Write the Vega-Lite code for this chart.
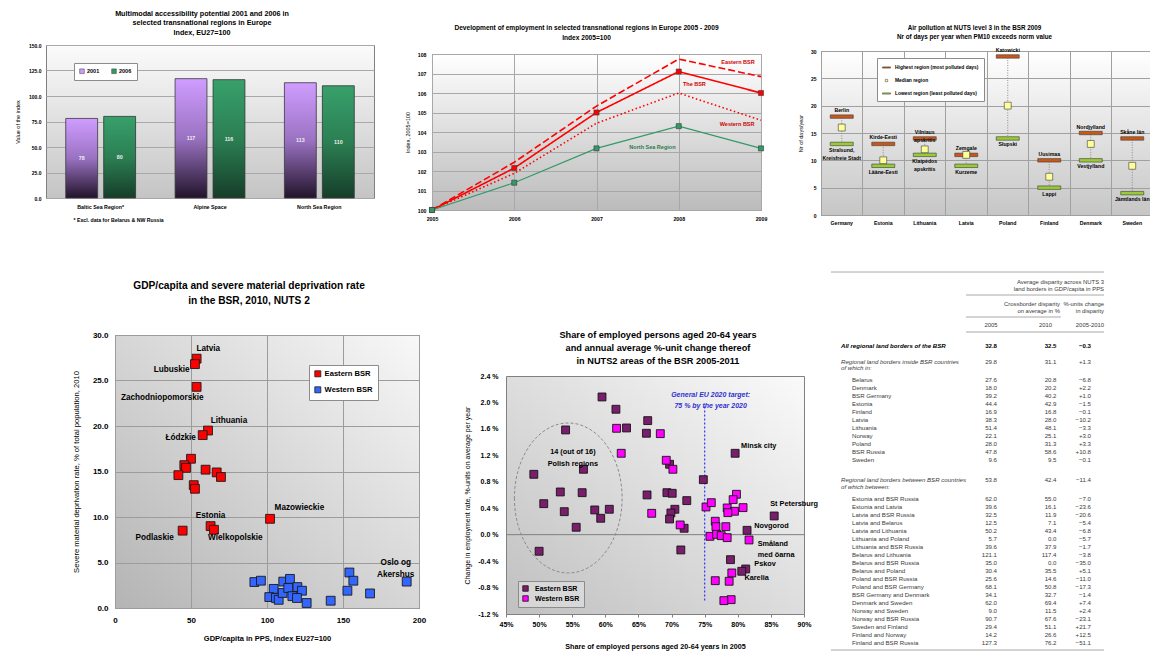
{
"$schema": "https://vega.github.io/schema/vega-lite/v6.json",
"background": "#ffffff",
"padding": {"left": 14, "top": 0, "right": 0, "bottom": 0},
"config": {
 "font": "Liberation Sans",
 "view": {"stroke": "#808080", "strokeWidth": 1},
 "axis": {"domain": false, "ticks": false, "tickSize": 0, "labelColor": "#000000", "titleColor": "#000000", "gridColor": "#a0a0a0", "gridWidth": 1, "labelFont": "Liberation Sans", "titleFont": "Liberation Sans"},
 "title": {"font": "Liberation Sans", "fontWeight": "bold", "color": "#000000", "anchor": "middle", "frame": "group"},
 "legend": {"labelFont": "Liberation Sans", "labelColor": "#000000"},
 "text": {"font": "Liberation Sans"}
},
"datasets": {
 "p1": [
  {"region": "Baltic Sea Region*", "year": "2001", "value": 78},
  {"region": "Baltic Sea Region*", "year": "2006", "value": 80},
  {"region": "Alpine Space", "year": "2001", "value": 117},
  {"region": "Alpine Space", "year": "2006", "value": 116},
  {"region": "North Sea Region", "year": "2001", "value": 113},
  {"region": "North Sea Region", "year": "2006", "value": 110}
 ],
 "p2": [
  {"series": "The BSR", "year": 2005, "index": 100}, {"series": "The BSR", "year": 2006, "index": 102.15}, {"series": "The BSR", "year": 2007, "index": 105.0}, {"series": "The BSR", "year": 2008, "index": 107.1}, {"series": "The BSR", "year": 2009, "index": 106.0},
  {"series": "Eastern BSR", "year": 2005, "index": 100}, {"series": "Eastern BSR", "year": 2006, "index": 102.45}, {"series": "Eastern BSR", "year": 2007, "index": 105.33}, {"series": "Eastern BSR", "year": 2008, "index": 107.74}, {"series": "Eastern BSR", "year": 2009, "index": 106.84},
  {"series": "Western BSR", "year": 2005, "index": 100}, {"series": "Western BSR", "year": 2006, "index": 101.88}, {"series": "Western BSR", "year": 2007, "index": 104.45}, {"series": "Western BSR", "year": 2008, "index": 106.0}, {"series": "Western BSR", "year": 2009, "index": 104.6},
  {"series": "North Sea Region", "year": 2005, "index": 100}, {"series": "North Sea Region", "year": 2006, "index": 101.4}, {"series": "North Sea Region", "year": 2007, "index": 103.16}, {"series": "North Sea Region", "year": 2008, "index": 104.3}, {"series": "North Sea Region", "year": 2009, "index": 103.16}
 ],
 "p2labRed": [
  {"label": "Eastern BSR", "year": 2008.72, "index": 107.6},
  {"label": "The BSR", "year": 2008.19, "index": 106.45},
  {"label": "Western BSR", "year": 2008.71, "index": 104.4}
 ],
 "p2labGreen": [
  {"label": "North Sea Region", "year": 2007.68, "index": 103.25}
 ],
 "p3": [
  {"country": "Germany", "type": "Highest region (most polluted days)", "days": 18, "name": "Berlin"},
  {"country": "Germany", "type": "Median region", "days": 16, "name": ""},
  {"country": "Germany", "type": "Lowest region (least polluted days)", "days": 13, "name": "Stralsund,\nKreisfreie Stadt"},
  {"country": "Estonia", "type": "Highest region (most polluted days)", "days": 13, "name": "Kirde-Eesti"},
  {"country": "Estonia", "type": "Median region", "days": 10, "name": ""},
  {"country": "Estonia", "type": "Lowest region (least polluted days)", "days": 9, "name": "Lääne-Eesti"},
  {"country": "Lithuania", "type": "Highest region (most polluted days)", "days": 14, "name": "Vilniaus\napskritis"},
  {"country": "Lithuania", "type": "Median region", "days": 12, "name": ""},
  {"country": "Lithuania", "type": "Lowest region (least polluted days)", "days": 11, "name": "Klaipėdos\napskritis"},
  {"country": "Latvia", "type": "Highest region (most polluted days)", "days": 11, "name": "Zemgale"},
  {"country": "Latvia", "type": "Median region", "days": 11, "name": ""},
  {"country": "Latvia", "type": "Lowest region (least polluted days)", "days": 9, "name": "Kurzeme"},
  {"country": "Poland", "type": "Highest region (most polluted days)", "days": 29, "name": "Katowicki"},
  {"country": "Poland", "type": "Median region", "days": 20, "name": ""},
  {"country": "Poland", "type": "Lowest region (least polluted days)", "days": 14, "name": "Słupski"},
  {"country": "Finland", "type": "Highest region (most polluted days)", "days": 10, "name": "Uusimaa"},
  {"country": "Finland", "type": "Median region", "days": 7, "name": ""},
  {"country": "Finland", "type": "Lowest region (least polluted days)", "days": 5, "name": "Lappi"},
  {"country": "Denmark", "type": "Highest region (most polluted days)", "days": 15, "name": "Nordjylland"},
  {"country": "Denmark", "type": "Median region", "days": 13, "name": ""},
  {"country": "Denmark", "type": "Lowest region (least polluted days)", "days": 10, "name": "Vestjylland"},
  {"country": "Sweden", "type": "Highest region (most polluted days)", "days": 14, "name": "Skåne län"},
  {"country": "Sweden", "type": "Median region", "days": 9, "name": ""},
  {"country": "Sweden", "type": "Lowest region (least polluted days)", "days": 4, "name": "Jämtlands län"}
 ],
 "p4": [
  {"group": "Eastern BSR", "gdp": 53.7, "smd": 27.4}, {"group": "Eastern BSR", "gdp": 52.6, "smd": 26.8}, {"group": "Eastern BSR", "gdp": 53.7, "smd": 24.3}, {"group": "Eastern BSR", "gdp": 61.2, "smd": 19.5}, {"group": "Eastern BSR", "gdp": 57.7, "smd": 19.0}, {"group": "Eastern BSR", "gdp": 50.0, "smd": 16.4}, {"group": "Eastern BSR", "gdp": 45.6, "smd": 15.7}, {"group": "Eastern BSR", "gdp": 46.7, "smd": 15.4}, {"group": "Eastern BSR", "gdp": 41.7, "smd": 14.6}, {"group": "Eastern BSR", "gdp": 59.6, "smd": 15.2}, {"group": "Eastern BSR", "gdp": 66.9, "smd": 14.9}, {"group": "Eastern BSR", "gdp": 69.7, "smd": 14.4}, {"group": "Eastern BSR", "gdp": 51.8, "smd": 13.5}, {"group": "Eastern BSR", "gdp": 52.6, "smd": 13.1}, {"group": "Eastern BSR", "gdp": 102.0, "smd": 9.8}, {"group": "Eastern BSR", "gdp": 62.9, "smd": 9.0}, {"group": "Eastern BSR", "gdp": 65.1, "smd": 8.6}, {"group": "Eastern BSR", "gdp": 44.5, "smd": 8.5},
  {"group": "Western BSR", "gdp": 91.7, "smd": 2.85}, {"group": "Western BSR", "gdp": 96.0, "smd": 3.0}, {"group": "Western BSR", "gdp": 104.4, "smd": 2.1}, {"group": "Western BSR", "gdp": 101.5, "smd": 1.2}, {"group": "Western BSR", "gdp": 105.9, "smd": 1.1}, {"group": "Western BSR", "gdp": 107.7, "smd": 0.9}, {"group": "Western BSR", "gdp": 110.3, "smd": 1.65}, {"group": "Western BSR", "gdp": 110.7, "smd": 2.9}, {"group": "Western BSR", "gdp": 115.1, "smd": 3.2}, {"group": "Western BSR", "gdp": 114.0, "smd": 2.2}, {"group": "Western BSR", "gdp": 116.7, "smd": 1.3}, {"group": "Western BSR", "gdp": 120.0, "smd": 2.3}, {"group": "Western BSR", "gdp": 123.0, "smd": 1.9}, {"group": "Western BSR", "gdp": 119.7, "smd": 1.1}, {"group": "Western BSR", "gdp": 126.1, "smd": 0.55}, {"group": "Western BSR", "gdp": 141.9, "smd": 0.8}, {"group": "Western BSR", "gdp": 152.9, "smd": 1.9}, {"group": "Western BSR", "gdp": 154.2, "smd": 3.9}, {"group": "Western BSR", "gdp": 156.8, "smd": 3.0}, {"group": "Western BSR", "gdp": 167.8, "smd": 1.6}, {"group": "Western BSR", "gdp": 191.9, "smd": 2.9}
 ],
 "p4lab": [
  {"label": "Latvia", "gdp": 61.4, "smd": 28.5},
  {"label": "Lubuskie", "gdp": 37.3, "smd": 26.2},
  {"label": "Zachodniopomorskie", "gdp": 31.1, "smd": 23.1},
  {"label": "Lithuania", "gdp": 75.0, "smd": 20.55},
  {"label": "Łódzkie", "gdp": 43.2, "smd": 18.7},
  {"label": "Mazowieckie", "gdp": 121.3, "smd": 11.0},
  {"label": "Estonia", "gdp": 62.9, "smd": 10.1},
  {"label": "Wielkopolskie", "gdp": 79.2, "smd": 7.7},
  {"label": "Podlaskie", "gdp": 26.1, "smd": 7.7},
  {"label": "Oslo og\nAkershus", "gdp": 184.7, "smd": 4.95}
 ],
 "p5": [
  {"group": "Eastern BSR", "share": 0.595, "change": 2.083}, {"group": "Eastern BSR", "share": 0.616, "change": 1.897}, {"group": "Eastern BSR", "share": 0.632, "change": 1.614}, {"group": "Eastern BSR", "share": 0.664, "change": 1.725}, {"group": "Eastern BSR", "share": 0.662, "change": 1.534}, {"group": "Eastern BSR", "share": 0.540, "change": 1.584}, {"group": "Eastern BSR", "share": 0.492, "change": 0.913}, {"group": "Eastern BSR", "share": 0.567, "change": 0.989}, {"group": "Eastern BSR", "share": 0.532, "change": 0.646}, {"group": "Eastern BSR", "share": 0.565, "change": 0.635}, {"group": "Eastern BSR", "share": 0.507, "change": 0.469}, {"group": "Eastern BSR", "share": 0.538, "change": 0.348}, {"group": "Eastern BSR", "share": 0.584, "change": 0.374}, {"group": "Eastern BSR", "share": 0.606, "change": 0.384}, {"group": "Eastern BSR", "share": 0.593, "change": 0.248}, {"group": "Eastern BSR", "share": 0.556, "change": 0.112}, {"group": "Eastern BSR", "share": 0.500, "change": -0.251}, {"group": "Eastern BSR", "share": 0.663, "change": 0.601}, {"group": "Eastern BSR", "share": 0.693, "change": 0.635}, {"group": "Eastern BSR", "share": 0.701, "change": 0.626}, {"group": "Eastern BSR", "share": 0.697, "change": 1.065}, {"group": "Eastern BSR", "share": 0.723, "change": 0.515}, {"group": "Eastern BSR", "share": 0.705, "change": 0.384}, {"group": "Eastern BSR", "share": 0.699, "change": 0.328}, {"group": "Eastern BSR", "share": 0.697, "change": 0.237}, {"group": "Eastern BSR", "share": 0.719, "change": 0.097}, {"group": "Eastern BSR", "share": 0.714, "change": -0.231}, {"group": "Eastern BSR", "share": 0.748, "change": 0.832}, {"group": "Eastern BSR", "share": 0.796, "change": 1.231}, {"group": "Eastern BSR", "share": 0.855, "change": 0.283}, {"group": "Eastern BSR", "share": 0.814, "change": 0.066}, {"group": "Eastern BSR", "share": 0.789, "change": -0.378}, {"group": "Eastern BSR", "share": 0.812, "change": -0.519}, {"group": "Eastern BSR", "share": 0.806, "change": -0.554},
  {"group": "Western BSR", "share": 0.617, "change": 1.609}, {"group": "Western BSR", "share": 0.624, "change": 1.231}, {"group": "Western BSR", "share": 0.683, "change": 1.528}, {"group": "Western BSR", "share": 0.692, "change": 1.125}, {"group": "Western BSR", "share": 0.702, "change": 0.989}, {"group": "Western BSR", "share": 0.670, "change": 0.323}, {"group": "Western BSR", "share": 0.713, "change": 0.147}, {"group": "Western BSR", "share": 0.752, "change": 0.419}, {"group": "Western BSR", "share": 0.760, "change": 0.484}, {"group": "Western BSR", "share": 0.798, "change": 0.611}, {"group": "Western BSR", "share": 0.793, "change": 0.530}, {"group": "Western BSR", "share": 0.784, "change": 0.404}, {"group": "Western BSR", "share": 0.795, "change": 0.354}, {"group": "Western BSR", "share": 0.808, "change": 0.409}, {"group": "Western BSR", "share": 0.785, "change": 0.333}, {"group": "Western BSR", "share": 0.766, "change": 0.203}, {"group": "Western BSR", "share": 0.767, "change": 0.121}, {"group": "Western BSR", "share": 0.782, "change": 0.121}, {"group": "Western BSR", "share": 0.758, "change": -0.025}, {"group": "Western BSR", "share": 0.768, "change": 0.005}, {"group": "Western BSR", "share": 0.775, "change": -0.015}, {"group": "Western BSR", "share": 0.784, "change": -0.045}, {"group": "Western BSR", "share": 0.817, "change": -0.080}, {"group": "Western BSR", "share": 0.791, "change": -0.579}, {"group": "Western BSR", "share": 0.766, "change": -0.696}, {"group": "Western BSR", "share": 0.787, "change": -0.705}, {"group": "Western BSR", "share": 0.790, "change": -0.983}, {"group": "Western BSR", "share": 0.779, "change": -0.998}
 ],
 "p5labR": [
  {"label": "Minsk city", "share": 0.805, "change": 1.342},
  {"label": "St Petersburg", "share": 0.849, "change": 0.469},
  {"label": "Novgorod", "share": 0.825, "change": 0.132},
  {"label": "Småland\nmed öarna", "share": 0.830, "change": -0.138},
  {"label": "Pskov", "share": 0.825, "change": -0.439},
  {"label": "Karelia", "share": 0.810, "change": -0.66}
 ],
 "p5labC": [
  {"label": "14 (out of 16)\nPolish regions", "share": 0.551, "change": 1.245}
 ],
 "p5labB": [
  {"label": "General EU 2020 target:\n75 % by the year 2020", "share": 0.759, "change": 2.11}
 ],
 "tabhead": [
  {"text": "Average disparity across NUTS 3", "line": 1.625, "col": "a"},
  {"text": "land borders in GDP/capita in PPS", "line": 2.5, "col": "a"},
  {"text": "Crossborder disparity", "line": 4.375, "col": "c"},
  {"text": "on average in %", "line": 5.25, "col": "c"},
  {"text": "%-units change", "line": 4.375, "col": "a"},
  {"text": "in disparity", "line": 5.25, "col": "a"},
  {"text": "2005", "line": 7, "col": "y5"},
  {"text": "2010", "line": 7, "col": "y10"},
  {"text": "2005-2010", "line": 7, "col": "a"}
 ],
 "tab": [
  {"label": "All regional land borders of the BSR", "kind": "total", "line": 9.625, "v2005": 32.8, "v2010": 32.5, "chg": -0.3},
  {"label": "Regional land borders inside BSR countries", "kind": "section", "line": 11.625, "v2005": 29.8, "v2010": 31.1, "chg": 1.3},
  {"label": "of which in:", "kind": "sub", "line": 12.375},
  {"label": "Belarus", "kind": "item", "line": 13.875, "v2005": 27.6, "v2010": 20.8, "chg": -6.8},
  {"label": "Denmark", "kind": "item", "line": 14.875, "v2005": 18.0, "v2010": 20.2, "chg": 2.2},
  {"label": "BSR Germany", "kind": "item", "line": 15.875, "v2005": 39.2, "v2010": 40.2, "chg": 1.0},
  {"label": "Estonia", "kind": "item", "line": 16.875, "v2005": 44.4, "v2010": 42.9, "chg": -1.5},
  {"label": "Finland", "kind": "item", "line": 17.875, "v2005": 16.9, "v2010": 16.8, "chg": -0.1},
  {"label": "Latvia", "kind": "item", "line": 18.875, "v2005": 38.3, "v2010": 28.0, "chg": -10.2},
  {"label": "Lithuania", "kind": "item", "line": 19.875, "v2005": 51.4, "v2010": 48.1, "chg": -3.3},
  {"label": "Norway", "kind": "item", "line": 20.875, "v2005": 22.1, "v2010": 25.1, "chg": 3.0},
  {"label": "Poland", "kind": "item", "line": 21.875, "v2005": 28.0, "v2010": 31.3, "chg": 3.3},
  {"label": "BSR Russia", "kind": "item", "line": 22.875, "v2005": 47.8, "v2010": 58.6, "chg": 10.8},
  {"label": "Sweden", "kind": "item", "line": 23.875, "v2005": 9.6, "v2010": 9.5, "chg": -0.1},
  {"label": "Regional land borders between BSR countries", "kind": "section", "line": 26.375, "v2005": 53.8, "v2010": 42.4, "chg": -11.4},
  {"label": "of which between:", "kind": "sub", "line": 27.25},
  {"label": "Estonia and BSR Russia", "kind": "item", "line": 28.75, "v2005": 62.0, "v2010": 55.0, "chg": -7.0},
  {"label": "Estonia and Latvia", "kind": "item", "line": 29.75, "v2005": 39.6, "v2010": 16.1, "chg": -23.6},
  {"label": "Latvia and BSR Russia", "kind": "item", "line": 30.75, "v2005": 32.5, "v2010": 11.9, "chg": -20.6},
  {"label": "Latvia and Belarus", "kind": "item", "line": 31.75, "v2005": 12.5, "v2010": 7.1, "chg": -5.4},
  {"label": "Latvia and Lithuania", "kind": "item", "line": 32.75, "v2005": 50.2, "v2010": 43.4, "chg": -6.8},
  {"label": "Lithuania and Poland", "kind": "item", "line": 33.75, "v2005": 5.7, "v2010": 0.0, "chg": -5.7},
  {"label": "Lithuania and BSR Russia", "kind": "item", "line": 34.75, "v2005": 39.6, "v2010": 37.9, "chg": -1.7},
  {"label": "Belarus and Lithuania", "kind": "item", "line": 35.75, "v2005": 121.1, "v2010": 117.4, "chg": -3.8},
  {"label": "Belarus and BSR Russia", "kind": "item", "line": 36.75, "v2005": 35.0, "v2010": 0.0, "chg": -35.0},
  {"label": "Belarus and Poland", "kind": "item", "line": 37.75, "v2005": 30.4, "v2010": 35.5, "chg": 5.1},
  {"label": "Poland and BSR Russia", "kind": "item", "line": 38.75, "v2005": 25.6, "v2010": 14.6, "chg": -11.0},
  {"label": "Poland and BSR Germany", "kind": "item", "line": 39.75, "v2005": 68.1, "v2010": 50.8, "chg": -17.3},
  {"label": "BSR Germany and Denmark", "kind": "item", "line": 40.75, "v2005": 34.1, "v2010": 32.7, "chg": -1.4},
  {"label": "Denmark and Sweden", "kind": "item", "line": 41.75, "v2005": 62.0, "v2010": 69.4, "chg": 7.4},
  {"label": "Norway and Sweden", "kind": "item", "line": 42.75, "v2005": 9.0, "v2010": 11.5, "chg": 2.4},
  {"label": "Norway and BSR Russia", "kind": "item", "line": 43.75, "v2005": 90.7, "v2010": 67.6, "chg": -23.1},
  {"label": "Sweden and Finland", "kind": "item", "line": 44.75, "v2005": 29.4, "v2010": 51.1, "chg": 21.7},
  {"label": "Finland and Norway", "kind": "item", "line": 45.75, "v2005": 14.2, "v2010": 26.6, "chg": 12.5},
  {"label": "Finland and BSR Russia", "kind": "item", "line": 46.75, "v2005": 127.3, "v2010": 76.2, "chg": -51.1}
 ]
},
"spacing": 43,
"resolve": {"scale": {"color": "independent", "shape": "independent", "strokeDash": "independent"}, "legend": {"color": "independent", "shape": "independent", "strokeDash": "independent"}},
"vconcat": [
 {"spacing": 29,
  "resolve": {"scale": {"color": "independent", "shape": "independent", "strokeDash": "independent"}, "legend": {"color": "independent", "shape": "independent", "strokeDash": "independent"}},
  "hconcat": [
  {"spacing": 0,
   "resolve": {"scale": {"color": "independent", "shape": "independent"}, "legend": {"color": "independent", "shape": "independent"}},
   "vconcat": [
   {"width": 1, "height": 9, "data": {"values": []}, "mark": {"type": "point", "size": 0, "opacity": 0}, "view": {"stroke": null, "fill": null}},
   {
    "width": 328, "height": 153,
    "view": {"fill": {"gradient": "linear", "x1": 0, "y1": 0, "x2": 0, "y2": 1, "stops": [{"offset": 0, "color": "#fbfbfb"}, {"offset": 1, "color": "#c4c4c4"}]}, "stroke": "#808080"},
    "title": {"text": ["Multimodal accessibility potential 2001 and 2006 in", "selected transnational regions in Europe", "Index, EU27=100"], "fontSize": 7.2, "lineHeight": 9.5, "offset": 7, "dx": -8},
    "data": {"name": "p1"},
    "encoding": {
     "x": {"field": "region", "type": "nominal", "sort": null, "scale": {"paddingInner": 0, "paddingOuter": 0}, "axis": {"labelAngle": 0, "labelFontSize": 5.3, "labelFontWeight": "bold", "labelPadding": 6, "grid": false, "title": "* Excl. data for Belarus & NW Russia", "titleFontSize": 5.2, "titleFontWeight": "bold", "titleAlign": "left", "titleAnchor": "start", "titleX": 27, "titleY": 21, "titleBaseline": "middle"}},
     "xOffset": {"field": "year", "type": "nominal", "scale": {"paddingInner": 0.16, "paddingOuter": 0.52}}
    },
    "layer": [
     {"encoding": {"y": {"field": "value", "type": "quantitative", "scale": {"domain": [0, 150]}, "axis": {"values": [0, 25, 50, 75, 100, 125, 150], "format": ".1f", "labelFontSize": 5, "labelFontWeight": "bold", "labelPadding": 5, "title": "Value of the index", "titleFontSize": 5.5, "titleFontWeight": "normal", "titlePadding": 8, "grid": true, "gridColor": "#a8a8a8"}}},
      "layer": [
       {"mark": {"type": "bar"}, "encoding": {"color": {"field": "year", "type": "nominal", "scale": {"domain": ["2001", "2006"], "range": ["#cc99ff", "#339966"]}, "legend": {"title": null, "orient": "none", "legendX": 28, "legendY": 18, "direction": "horizontal", "fillColor": "#ffffff", "strokeColor": "#8c8c8c", "padding": 5, "symbolType": "square", "symbolSize": 22, "symbolStrokeColor": "#404040", "symbolStrokeWidth": 0.5, "labelFontSize": 5.5, "labelFontWeight": "bold", "columnPadding": 10, "labelOffset": 2}}}},
       {"transform": [{"filter": "datum.year === '2001'"}], "mark": {"type": "bar", "fill": {"gradient": "linear", "x1": 0, "y1": 0, "x2": 0, "y2": 1, "stops": [{"offset": 0, "color": "#cf9dff"}, {"offset": 0.5, "color": "#9a72c2"}, {"offset": 1, "color": "#22142a"}]}, "stroke": "#3c3c3c", "strokeWidth": 0.8}},
       {"transform": [{"filter": "datum.year === '2006'"}], "mark": {"type": "bar", "fill": {"gradient": "linear", "x1": 0, "y1": 0, "x2": 0, "y2": 1, "stops": [{"offset": 0, "color": "#38a06b"}, {"offset": 0.5, "color": "#2b7f53"}, {"offset": 1, "color": "#163d29"}]}, "stroke": "#3c3c3c", "strokeWidth": 0.8}}
      ]},
     {"mark": {"type": "text", "fontSize": 5.3, "fontWeight": "bold", "color": "#eeeeee"}, "encoding": {"text": {"field": "value", "type": "quantitative"}, "y": {"field": "value", "type": "quantitative", "scale": {"domain": [0, 300]}, "axis": null}}}
    ],
    "resolve": {"scale": {"y": "independent"}}
   }
  ]},
  {"spacing": 0, "vconcat": [
   {"width": 1, "height": 23.5, "data": {"values": []}, "mark": {"type": "point", "size": 0, "opacity": 0}, "view": {"stroke": null, "fill": null}},
   {
    "width": 329, "height": 156,
    "view": {"fill": {"gradient": "linear", "x1": 0, "y1": 0, "x2": 0, "y2": 1, "stops": [{"offset": 0, "color": "#ffffff"}, {"offset": 1, "color": "#bbbbbb"}]}, "stroke": "#808080"},
    "title": {"text": ["Development of employment in selected transnational regions in Europe 2005 - 2009", "Index 2005=100"], "fontSize": 6.6, "lineHeight": 10, "offset": 10, "dx": -10},
    "data": {"name": "p2"},
    "encoding": {
     "x": {"field": "year", "type": "quantitative", "scale": {"domain": [2005, 2009]}, "axis": {"values": [2005, 2006, 2007, 2008, 2009], "format": "d", "labelFontSize": 5.2, "labelFontWeight": "bold", "labelPadding": 6, "labelFlush": false, "title": null, "grid": true, "gridColor": "#a8a8a8"}},
     "y": {"field": "index", "type": "quantitative", "scale": {"domain": [100, 108]}, "axis": {"values": [100, 101, 102, 103, 104, 105, 106, 107, 108], "labelFontSize": 5.2, "labelFontWeight": "bold", "labelPadding": 6, "title": "Index, 2005=100", "titleFontSize": 5.5, "titleFontWeight": "normal", "titlePadding": 7, "grid": true, "gridColor": "#a8a8a8"}}
    },
    "layer": [
     {"transform": [{"filter": "datum.series !== 'North Sea Region'"}], "mark": {"type": "line", "strokeWidth": 1.6}, "encoding": {"color": {"field": "series", "type": "nominal", "scale": {"domain": ["The BSR", "Eastern BSR", "Western BSR", "North Sea Region"], "range": ["#ff0000", "#ff0000", "#ff0000", "#339966"]}, "legend": null}, "strokeDash": {"field": "series", "type": "nominal", "scale": {"domain": ["The BSR", "Eastern BSR", "Western BSR", "North Sea Region"], "range": [[1, 0], [7, 3], [1.5, 2.5], [1, 0]]}, "legend": null}}},
     {"transform": [{"filter": "datum.series === 'North Sea Region'"}], "mark": {"type": "line", "strokeWidth": 1.1}, "encoding": {"color": {"field": "series", "type": "nominal", "legend": null}}},
     {"transform": [{"filter": "datum.series === 'The BSR' || datum.series === 'North Sea Region'"}], "mark": {"type": "square", "size": 26, "stroke": "#3a3a3a", "strokeWidth": 0.6, "opacity": 1}, "encoding": {"color": {"field": "series", "type": "nominal", "legend": null}}},
     {"data": {"name": "p2labRed"}, "mark": {"type": "text", "fontSize": 5.5, "fontWeight": "bold", "color": "#cc0000"}, "encoding": {"text": {"field": "label", "type": "nominal"}}},
     {"data": {"name": "p2labGreen"}, "mark": {"type": "text", "fontSize": 5.5, "fontWeight": "bold", "color": "#2b7a4b"}, "encoding": {"text": {"field": "label", "type": "nominal"}}}
    ]
   }
  ]},
  {"spacing": 0,
   "resolve": {"scale": {"color": "independent", "shape": "independent"}, "legend": {"color": "independent", "shape": "independent"}},
   "vconcat": [
   {"width": 1, "height": 23.5, "data": {"values": []}, "mark": {"type": "point", "size": 0, "opacity": 0}, "view": {"stroke": null, "fill": null}},
   {
    "width": 332, "height": 164,
    "view": {"fill": {"gradient": "linear", "x1": 0, "y1": 0, "x2": 0, "y2": 1, "stops": [{"offset": 0, "color": "#ffffff"}, {"offset": 1, "color": "#c6c6c6"}]}, "stroke": "#808080"},
    "title": {"text": ["Air pollution at NUTS level 3 in the BSR 2009", "Nr of days per year when PM10 exceeds norm value"], "fontSize": 6.3, "lineHeight": 9, "offset": 7.5, "dx": -12.5},
    "data": {"name": "p3"},
    "encoding": {
     "x": {"field": "country", "type": "nominal", "sort": ["Germany", "Estonia", "Lithuania", "Latvia", "Poland", "Finland", "Denmark", "Sweden"], "scale": {"paddingInner": 0, "paddingOuter": 0}, "axis": {"labelAngle": 0, "labelFontSize": 5.2, "labelFontWeight": "bold", "labelPadding": 5, "title": null, "grid": true, "gridColor": "#a0a0a0", "bandPosition": 0}},
     "y": {"field": "days", "type": "quantitative", "scale": {"domain": [0, 30]}, "axis": {"values": [0, 5, 10, 15, 20, 25, 30], "labelFontSize": 5, "labelFontWeight": "bold", "labelPadding": 5, "title": "Nr of days/year", "titleFontSize": 5.5, "titleFontWeight": "normal", "titlePadding": 7, "grid": true, "gridColor": "#a0a0a0"}}
    },
    "layer": [
     {"transform": [{"aggregate": [{"op": "min", "field": "days", "as": "lo"}, {"op": "max", "field": "days", "as": "hi"}], "groupby": ["country"]}], "mark": {"type": "rule", "color": "#8c8c8c", "strokeWidth": 1, "strokeDash": [1, 1.5]}, "encoding": {"y": {"field": "lo", "type": "quantitative", "axis": {"values": [0, 5, 10, 15, 20, 25, 30], "labelFontSize": 5, "labelFontWeight": "bold", "labelPadding": 5, "title": "Nr of days/year", "titleFontSize": 5.5, "titleFontWeight": "normal", "titlePadding": 7, "grid": true, "gridColor": "#a0a0a0"}}, "y2": {"field": "hi"}}},
     {"mark": {"type": "point", "filled": true, "size": 529, "stroke": "#3a3a3a", "strokeWidth": 0.6, "opacity": 1}, "encoding": {
      "shape": {"field": "type", "type": "nominal", "scale": {"domain": ["Highest region (most polluted days)", "Median region", "Lowest region (least polluted days)"], "range": ["M-1,-0.15H1V0.15H-1Z", "M-0.3,-0.3H0.3V0.3H-0.3Z", "M-1,-0.15H1V0.15H-1Z"]}, "legend": {"title": null, "orient": "none", "legendX": 56, "legendY": 7, "fillColor": "#ffffff", "strokeColor": "#8c8c8c", "padding": 5, "rowPadding": 6, "symbolSize": 64, "symbolStrokeColor": "#3a3a3a", "symbolStrokeWidth": 0.5, "labelFontSize": 4.9, "labelFontWeight": "bold", "labelOffset": 4}},
      "color": {"field": "type", "type": "nominal", "scale": {"domain": ["Highest region (most polluted days)", "Median region", "Lowest region (least polluted days)"], "range": ["#c8581a", "#ffff99", "#99cc33"]}, "legend": {"title": null, "orient": "none", "legendX": 56, "legendY": 7, "fillColor": "#ffffff", "strokeColor": "#8c8c8c", "padding": 5, "rowPadding": 6, "symbolSize": 64, "symbolStrokeColor": "#3a3a3a", "symbolStrokeWidth": 0.5, "labelFontSize": 4.9, "labelFontWeight": "bold", "labelOffset": 4}}
     }},
     {"transform": [{"filter": "datum.type === 'Highest region (most polluted days)'"}], "mark": {"type": "text", "fontSize": 5.2, "fontWeight": "bold", "baseline": "bottom", "dy": -3.5, "lineBreak": "\n", "lineHeight": 8}, "encoding": {"text": {"field": "name", "type": "nominal"}}},
     {"transform": [{"filter": "datum.type === 'Lowest region (least polluted days)'"}], "mark": {"type": "text", "fontSize": 5.2, "fontWeight": "bold", "baseline": "top", "dy": 4, "lineBreak": "\n", "lineHeight": 8}, "encoding": {"text": {"field": "name", "type": "nominal"}}}
    ]
   }
  ]}
 ]},
 {"spacing": 24,
  "resolve": {"scale": {"color": "independent", "shape": "independent", "strokeDash": "independent"}, "legend": {"color": "independent", "shape": "independent", "strokeDash": "independent"}},
  "hconcat": [
  {"width": 1, "height": 1, "data": {"values": []}, "mark": {"type": "point", "size": 0, "opacity": 0}, "view": {"stroke": null, "fill": null}},
  {"spacing": 11,
   "resolve": {"scale": {"color": "independent", "shape": "independent", "strokeDash": "independent"}, "legend": {"color": "independent", "shape": "independent", "strokeDash": "independent"}},
   "hconcat": [
   {"spacing": 36,
    "resolve": {"scale": {"color": "independent", "shape": "independent", "strokeDash": "independent"}, "legend": {"color": "independent", "shape": "independent", "strokeDash": "independent"}},
    "hconcat": [
    {"spacing": 0,
     "resolve": {"scale": {"color": "independent"}, "legend": {"color": "independent"}},
     "vconcat": [
     {"width": 1, "height": 10.5, "data": {"values": []}, "mark": {"type": "point", "size": 0, "opacity": 0}, "view": {"stroke": null, "fill": null}},
     {
      "width": 304, "height": 273,
      "view": {"fill": {"gradient": "linear", "x1": 0, "y1": 1, "x2": 1, "y2": 0, "stops": [{"offset": 0, "color": "#b4b4b4"}, {"offset": 1, "color": "#f8f8f8"}]}, "stroke": "#808080"},
      "title": {"text": ["GDP/capita and severe material deprivation rate", "in the BSR, 2010, NUTS 2"], "fontSize": 10.2, "lineHeight": 15, "offset": 25, "dx": -18},
      "encoding": {
       "x": {"field": "gdp", "type": "quantitative", "scale": {"domain": [0, 200]}, "axis": {"values": [0, 50, 100, 150, 200], "format": "d", "labelFontSize": 8, "labelFontWeight": "bold", "labelPadding": 8, "labelFlush": false, "title": "GDP/capita in PPS, index EU27=100", "titleFontSize": 7.5, "titleFontWeight": "bold", "titlePadding": 10, "grid": true, "gridColor": "#9c9c9c"}},
       "y": {"field": "smd", "type": "quantitative", "scale": {"domain": [0, 30]}, "axis": {"values": [0, 5, 10, 15, 20, 25, 30], "format": ".1f", "labelFontSize": 8, "labelFontWeight": "bold", "labelPadding": 7, "title": "Severe material deprivation rate, % of total population, 2010", "titleFontSize": 7.6, "titleFontWeight": "normal", "titlePadding": 12, "grid": true, "gridColor": "#9c9c9c"}}
      },
      "layer": [
       {"data": {"name": "p4"}, "mark": {"type": "square", "size": 78, "stroke": "#1a1a1a", "strokeWidth": 0.9, "opacity": 1}, "encoding": {"color": {"field": "group", "type": "nominal", "scale": {"domain": ["Eastern BSR", "Western BSR"], "range": ["#ff0000", "#3366ff"]}, "legend": {"title": null, "orient": "none", "legendX": 194, "legendY": 30, "fillColor": "#ffffff", "strokeColor": "#8c8c8c", "padding": 5, "rowPadding": 6, "symbolType": "square", "symbolSize": 36, "symbolStrokeColor": "#1a1a1a", "symbolStrokeWidth": 0.8, "labelFontSize": 7.6, "labelFontWeight": "bold", "labelOffset": 3}}}},
       {"data": {"name": "p4lab"}, "mark": {"type": "text", "fontSize": 8.2, "fontWeight": "bold", "lineBreak": "\n", "lineHeight": 12}, "encoding": {"text": {"field": "label", "type": "nominal"}}}
      ]
     }
    ]},
    {"spacing": 0,
     "resolve": {"scale": {"color": "independent"}, "legend": {"color": "independent"}},
     "vconcat": [
     {"width": 1, "height": 61, "data": {"values": []}, "mark": {"type": "point", "size": 0, "opacity": 0}, "view": {"stroke": null, "fill": null}},
     {
      "width": 298, "height": 238,
      "view": {"fill": {"gradient": "linear", "x1": 0, "y1": 1, "x2": 1, "y2": 0, "stops": [{"offset": 0, "color": "#c0c0c0"}, {"offset": 1, "color": "#fafafa"}]}, "stroke": "#808080"},
      "title": {"text": ["Share of employed persons aged 20-64 years", "and annual average %-unit change thereof", "in NUTS2 areas of the BSR 2005-2011"], "fontSize": 9.2, "lineHeight": 13, "offset": 5.5, "dx": 3},
      "layer": [
       {"data": {"values": [{}]}, "mark": {"type": "rule", "color": "#7f7f7f", "strokeWidth": 1}, "encoding": {
        "y": {"datum": 0, "type": "quantitative", "scale": {"domain": [-1.2, 2.4]}, "axis": {"values": [-1.2, -0.8, -0.4, 0, 0.4, 0.8, 1.2, 1.6, 2.0, 2.4], "labelOverlap": false, "labelExpr": "replace(format(datum.value, '.1f'), '−', '-') + ' %'", "labelFontSize": 7, "labelFontWeight": "bold", "labelPadding": 8, "title": "Change in employment rate, %-units on average per year", "titleFontSize": 7, "titleFontWeight": "normal", "titlePadding": 7, "grid": false}}
       }},
       {"data": {"values": [{}]}, "mark": {"type": "rule", "color": "#3333ff", "strokeWidth": 1.2, "strokeDash": [2, 2]}, "encoding": {
        "x": {"datum": 0.75, "type": "quantitative", "scale": {"domain": [0.45, 0.9]}, "axis": {"values": [0.45, 0.5, 0.55, 0.6, 0.65, 0.7, 0.75, 0.8, 0.85, 0.9], "format": ".0%", "labelOverlap": false, "labelFontSize": 7, "labelFontWeight": "bold", "labelPadding": 3, "labelFlush": false, "ticks": true, "tickSize": 3, "tickColor": "#808080", "title": "Share of employed persons aged 20-64 years in 2005", "titleFontSize": 7.2, "titleFontWeight": "bold", "titlePadding": 15, "grid": false}},
        "y": {"datum": 1.94, "type": "quantitative", "scale": {"domain": [-1.2, 2.4]}, "axis": {"values": [-1.2, -0.8, -0.4, 0, 0.4, 0.8, 1.2, 1.6, 2.0, 2.4], "labelOverlap": false, "labelExpr": "replace(format(datum.value, '.1f'), '−', '-') + ' %'", "labelFontSize": 7, "labelFontWeight": "bold", "labelPadding": 8, "title": "Change in employment rate, %-units on average per year", "titleFontSize": 7, "titleFontWeight": "normal", "titlePadding": 7, "grid": false}},
        "y2": {"datum": -1.02}
       }},
       {"data": {"values": [{}]}, "mark": {"type": "point", "shape": "M-0.718,0A0.718,1,0,1,0,0.718,0A0.718,1,0,1,0,-0.718,0Z", "size": 22500, "filled": false, "stroke": "#8c8c8c", "strokeWidth": 1, "strokeDash": [3, 2], "opacity": 1}, "encoding": {
        "x": {"datum": 0.544, "type": "quantitative", "scale": {"domain": [0.45, 0.9]}, "axis": {"values": [0.45, 0.5, 0.55, 0.6, 0.65, 0.7, 0.75, 0.8, 0.85, 0.9], "format": ".0%", "labelOverlap": false, "labelFontSize": 7, "labelFontWeight": "bold", "labelPadding": 3, "labelFlush": false, "ticks": true, "tickSize": 3, "tickColor": "#808080", "title": "Share of employed persons aged 20-64 years in 2005", "titleFontSize": 7.2, "titleFontWeight": "bold", "titlePadding": 15, "grid": false}},
        "y": {"datum": 0.555, "type": "quantitative", "scale": {"domain": [-1.2, 2.4]}, "axis": {"values": [-1.2, -0.8, -0.4, 0, 0.4, 0.8, 1.2, 1.6, 2.0, 2.4], "labelOverlap": false, "labelExpr": "replace(format(datum.value, '.1f'), '−', '-') + ' %'", "labelFontSize": 7, "labelFontWeight": "bold", "labelPadding": 8, "title": "Change in employment rate, %-units on average per year", "titleFontSize": 7, "titleFontWeight": "normal", "titlePadding": 7, "grid": false}}
       }},
       {"data": {"name": "p5"}, "mark": {"type": "square", "size": 62, "stroke": "#141414", "strokeWidth": 0.9, "opacity": 1}, "encoding": {
        "x": {"field": "share", "type": "quantitative", "scale": {"domain": [0.45, 0.9]}, "axis": {"values": [0.45, 0.5, 0.55, 0.6, 0.65, 0.7, 0.75, 0.8, 0.85, 0.9], "format": ".0%", "labelOverlap": false, "labelFontSize": 7, "labelFontWeight": "bold", "labelPadding": 3, "labelFlush": false, "ticks": true, "tickSize": 3, "tickColor": "#808080", "title": "Share of employed persons aged 20-64 years in 2005", "titleFontSize": 7.2, "titleFontWeight": "bold", "titlePadding": 15, "grid": false}},
        "y": {"field": "change", "type": "quantitative", "scale": {"domain": [-1.2, 2.4]}, "axis": {"values": [-1.2, -0.8, -0.4, 0, 0.4, 0.8, 1.2, 1.6, 2.0, 2.4], "labelOverlap": false, "labelExpr": "replace(format(datum.value, '.1f'), '−', '-') + ' %'", "labelFontSize": 7, "labelFontWeight": "bold", "labelPadding": 8, "title": "Change in employment rate, %-units on average per year", "titleFontSize": 7, "titleFontWeight": "normal", "titlePadding": 7, "grid": false}},
        "color": {"field": "group", "type": "nominal", "scale": {"domain": ["Eastern BSR", "Western BSR"], "range": ["#7b1d6d", "#ff00ff"]}, "legend": {"title": null, "orient": "none", "legendX": 12, "legendY": 205, "fillColor": "rgba(226,226,226,0.6)", "strokeColor": "#8c8c8c", "padding": 4, "rowPadding": 1, "symbolType": "square", "symbolSize": 30, "symbolStrokeColor": "#141414", "symbolStrokeWidth": 0.8, "labelFontSize": 7, "labelFontWeight": "bold", "labelOffset": 6}}
       }},
       {"data": {"name": "p5labR"}, "mark": {"type": "text", "align": "left", "fontSize": 7.3, "fontWeight": "bold", "lineBreak": "\n", "lineHeight": 11}, "encoding": {
        "x": {"field": "share", "type": "quantitative", "scale": {"domain": [0.45, 0.9]}, "axis": {"values": [0.45, 0.5, 0.55, 0.6, 0.65, 0.7, 0.75, 0.8, 0.85, 0.9], "format": ".0%", "labelOverlap": false, "labelFontSize": 7, "labelFontWeight": "bold", "labelPadding": 3, "labelFlush": false, "ticks": true, "tickSize": 3, "tickColor": "#808080", "title": "Share of employed persons aged 20-64 years in 2005", "titleFontSize": 7.2, "titleFontWeight": "bold", "titlePadding": 15, "grid": false}},
        "y": {"field": "change", "type": "quantitative", "scale": {"domain": [-1.2, 2.4]}, "axis": {"values": [-1.2, -0.8, -0.4, 0, 0.4, 0.8, 1.2, 1.6, 2.0, 2.4], "labelOverlap": false, "labelExpr": "replace(format(datum.value, '.1f'), '−', '-') + ' %'", "labelFontSize": 7, "labelFontWeight": "bold", "labelPadding": 8, "title": "Change in employment rate, %-units on average per year", "titleFontSize": 7, "titleFontWeight": "normal", "titlePadding": 7, "grid": false}},
        "text": {"field": "label", "type": "nominal"}}},
       {"data": {"name": "p5labC"}, "mark": {"type": "text", "align": "center", "fontSize": 7.3, "fontWeight": "bold", "lineBreak": "\n", "lineHeight": 11.3}, "encoding": {
        "x": {"field": "share", "type": "quantitative", "scale": {"domain": [0.45, 0.9]}, "axis": {"values": [0.45, 0.5, 0.55, 0.6, 0.65, 0.7, 0.75, 0.8, 0.85, 0.9], "format": ".0%", "labelOverlap": false, "labelFontSize": 7, "labelFontWeight": "bold", "labelPadding": 3, "labelFlush": false, "ticks": true, "tickSize": 3, "tickColor": "#808080", "title": "Share of employed persons aged 20-64 years in 2005", "titleFontSize": 7.2, "titleFontWeight": "bold", "titlePadding": 15, "grid": false}},
        "y": {"field": "change", "type": "quantitative", "scale": {"domain": [-1.2, 2.4]}, "axis": {"values": [-1.2, -0.8, -0.4, 0, 0.4, 0.8, 1.2, 1.6, 2.0, 2.4], "labelOverlap": false, "labelExpr": "replace(format(datum.value, '.1f'), '−', '-') + ' %'", "labelFontSize": 7, "labelFontWeight": "bold", "labelPadding": 8, "title": "Change in employment rate, %-units on average per year", "titleFontSize": 7, "titleFontWeight": "normal", "titlePadding": 7, "grid": false}},
        "text": {"field": "label", "type": "nominal"}}},
       {"data": {"name": "p5labB"}, "mark": {"type": "text", "align": "center", "fontSize": 7, "fontWeight": "bold", "fontStyle": "italic", "color": "#3030d0", "lineBreak": "\n", "lineHeight": 10.6}, "encoding": {
        "x": {"field": "share", "type": "quantitative", "scale": {"domain": [0.45, 0.9]}, "axis": {"values": [0.45, 0.5, 0.55, 0.6, 0.65, 0.7, 0.75, 0.8, 0.85, 0.9], "format": ".0%", "labelOverlap": false, "labelFontSize": 7, "labelFontWeight": "bold", "labelPadding": 3, "labelFlush": false, "ticks": true, "tickSize": 3, "tickColor": "#808080", "title": "Share of employed persons aged 20-64 years in 2005", "titleFontSize": 7.2, "titleFontWeight": "bold", "titlePadding": 15, "grid": false}},
        "y": {"field": "change", "type": "quantitative", "scale": {"domain": [-1.2, 2.4]}, "axis": {"values": [-1.2, -0.8, -0.4, 0, 0.4, 0.8, 1.2, 1.6, 2.0, 2.4], "labelOverlap": false, "labelExpr": "replace(format(datum.value, '.1f'), '−', '-') + ' %'", "labelFontSize": 7, "labelFontWeight": "bold", "labelPadding": 8, "title": "Change in employment rate, %-units on average per year", "titleFontSize": 7, "titleFontWeight": "normal", "titlePadding": 7, "grid": false}},
        "text": {"field": "label", "type": "nominal"}}}
      ]
     }
    ]}
   ]},
   {
    "width": 275, "height": 382,
    "view": {"stroke": null, "fill": null},
    "layer": [
     {"data": {"values": [{}]}, "mark": {"type": "rule", "color": "#a8a8a8", "strokeWidth": 1}, "encoding": {"x": {"datum": 0, "type": "quantitative", "scale": {"domain": [0, 275]}, "axis": null}, "x2": {"datum": 273}, "y": {"datum": 0.375, "type": "quantitative", "scale": {"domain": [0, 47.75], "reverse": true}, "axis": null}}},
     {"data": {"values": [{}]}, "mark": {"type": "rule", "color": "#a8a8a8", "strokeWidth": 1}, "encoding": {"x": {"datum": 135, "type": "quantitative", "scale": {"domain": [0, 275]}, "axis": null}, "x2": {"datum": 273}, "y": {"datum": 3.25, "type": "quantitative", "scale": {"domain": [0, 47.75], "reverse": true}, "axis": null}}},
     {"data": {"values": [{}]}, "mark": {"type": "rule", "color": "#a8a8a8", "strokeWidth": 1}, "encoding": {"x": {"datum": 135, "type": "quantitative", "scale": {"domain": [0, 275]}, "axis": null}, "x2": {"datum": 230}, "y": {"datum": 6.0, "type": "quantitative", "scale": {"domain": [0, 47.75], "reverse": true}, "axis": null}}},
     {"data": {"values": [{}]}, "mark": {"type": "rule", "color": "#a8a8a8", "strokeWidth": 1}, "encoding": {"x": {"datum": 135, "type": "quantitative", "scale": {"domain": [0, 275]}, "axis": null}, "x2": {"datum": 273}, "y": {"datum": 7.875, "type": "quantitative", "scale": {"domain": [0, 47.75], "reverse": true}, "axis": null}}},
     {"data": {"values": [{}]}, "mark": {"type": "rule", "color": "#a8a8a8", "strokeWidth": 1}, "encoding": {"x": {"datum": 0, "type": "quantitative", "scale": {"domain": [0, 275]}, "axis": null}, "x2": {"datum": 273}, "y": {"datum": 47.625, "type": "quantitative", "scale": {"domain": [0, 47.75], "reverse": true}, "axis": null}}},
     {"data": {"name": "tabhead"}, "transform": [{"filter": "datum.col === 'a'"}], "mark": {"type": "text", "align": "right", "fontSize": 5.9, "color": "#3a3a3a"}, "encoding": {"x": {"datum": 273, "type": "quantitative", "scale": {"domain": [0, 275]}, "axis": null}, "y": {"field": "line", "type": "quantitative", "scale": {"domain": [0, 47.75], "reverse": true}, "axis": null}, "text": {"field": "text", "type": "nominal"}}},
     {"data": {"name": "tabhead"}, "transform": [{"filter": "datum.col === 'c'"}], "mark": {"type": "text", "align": "right", "fontSize": 5.9, "color": "#3a3a3a"}, "encoding": {"x": {"datum": 229, "type": "quantitative", "scale": {"domain": [0, 275]}, "axis": null}, "y": {"field": "line", "type": "quantitative", "scale": {"domain": [0, 47.75], "reverse": true}, "axis": null}, "text": {"field": "text", "type": "nominal"}}},
     {"data": {"name": "tabhead"}, "transform": [{"filter": "datum.col === 'y5'"}], "mark": {"type": "text", "align": "right", "fontSize": 5.9, "color": "#3a3a3a"}, "encoding": {"x": {"datum": 166.5, "type": "quantitative", "scale": {"domain": [0, 275]}, "axis": null}, "y": {"field": "line", "type": "quantitative", "scale": {"domain": [0, 47.75], "reverse": true}, "axis": null}, "text": {"field": "text", "type": "nominal"}}},
     {"data": {"name": "tabhead"}, "transform": [{"filter": "datum.col === 'y10'"}], "mark": {"type": "text", "align": "right", "fontSize": 5.9, "color": "#3a3a3a"}, "encoding": {"x": {"datum": 221, "type": "quantitative", "scale": {"domain": [0, 275]}, "axis": null}, "y": {"field": "line", "type": "quantitative", "scale": {"domain": [0, 47.75], "reverse": true}, "axis": null}, "text": {"field": "text", "type": "nominal"}}},
     {"data": {"name": "tab"}, "transform": [{"filter": "datum.kind === 'total'"}], "mark": {"type": "text", "align": "left", "fontSize": 6.1, "fontWeight": "bold", "fontStyle": "italic", "color": "#000000"}, "encoding": {"x": {"datum": 10, "type": "quantitative", "scale": {"domain": [0, 275]}, "axis": null}, "y": {"field": "line", "type": "quantitative", "scale": {"domain": [0, 47.75], "reverse": true}, "axis": null}, "text": {"field": "label", "type": "nominal"}}},
     {"data": {"name": "tab"}, "transform": [{"filter": "datum.kind === 'section' || datum.kind === 'sub'"}], "mark": {"type": "text", "align": "left", "fontSize": 6.1, "fontStyle": "italic", "color": "#3a3a3a"}, "encoding": {"x": {"datum": 10, "type": "quantitative", "scale": {"domain": [0, 275]}, "axis": null}, "y": {"field": "line", "type": "quantitative", "scale": {"domain": [0, 47.75], "reverse": true}, "axis": null}, "text": {"field": "label", "type": "nominal"}}},
     {"data": {"name": "tab"}, "transform": [{"filter": "datum.kind === 'item'"}], "mark": {"type": "text", "align": "left", "fontSize": 6.1, "color": "#3a3a3a"}, "encoding": {"x": {"datum": 21, "type": "quantitative", "scale": {"domain": [0, 275]}, "axis": null}, "y": {"field": "line", "type": "quantitative", "scale": {"domain": [0, 47.75], "reverse": true}, "axis": null}, "text": {"field": "label", "type": "nominal"}}},
     {"data": {"name": "tab"}, "transform": [{"filter": "datum.kind === 'section' || datum.kind === 'item'"}], "mark": {"type": "text", "align": "right", "fontSize": 6.1, "color": "#3a3a3a"}, "encoding": {"x": {"datum": 166, "type": "quantitative", "scale": {"domain": [0, 275]}, "axis": null}, "y": {"field": "line", "type": "quantitative", "scale": {"domain": [0, 47.75], "reverse": true}, "axis": null}, "text": {"field": "v2005", "type": "quantitative", "format": ".1f"}}},
     {"data": {"name": "tab"}, "transform": [{"filter": "datum.kind === 'section' || datum.kind === 'item'"}], "mark": {"type": "text", "align": "right", "fontSize": 6.1, "color": "#3a3a3a"}, "encoding": {"x": {"datum": 225.5, "type": "quantitative", "scale": {"domain": [0, 275]}, "axis": null}, "y": {"field": "line", "type": "quantitative", "scale": {"domain": [0, 47.75], "reverse": true}, "axis": null}, "text": {"field": "v2010", "type": "quantitative", "format": ".1f"}}},
     {"data": {"name": "tab"}, "transform": [{"filter": "datum.kind === 'section' || datum.kind === 'item'"}], "mark": {"type": "text", "align": "right", "fontSize": 6.1, "color": "#3a3a3a"}, "encoding": {"x": {"datum": 260, "type": "quantitative", "scale": {"domain": [0, 275]}, "axis": null}, "y": {"field": "line", "type": "quantitative", "scale": {"domain": [0, 47.75], "reverse": true}, "axis": null}, "text": {"field": "chg", "type": "quantitative", "format": "+.1f"}}},
     {"data": {"name": "tab"}, "transform": [{"filter": "datum.kind === 'total'"}], "mark": {"type": "text", "align": "right", "fontSize": 6.1, "fontWeight": "bold", "color": "#000000"}, "encoding": {"x": {"datum": 166, "type": "quantitative", "scale": {"domain": [0, 275]}, "axis": null}, "y": {"field": "line", "type": "quantitative", "scale": {"domain": [0, 47.75], "reverse": true}, "axis": null}, "text": {"field": "v2005", "type": "quantitative", "format": ".1f"}}},
     {"data": {"name": "tab"}, "transform": [{"filter": "datum.kind === 'total'"}], "mark": {"type": "text", "align": "right", "fontSize": 6.1, "fontWeight": "bold", "color": "#000000"}, "encoding": {"x": {"datum": 225.5, "type": "quantitative", "scale": {"domain": [0, 275]}, "axis": null}, "y": {"field": "line", "type": "quantitative", "scale": {"domain": [0, 47.75], "reverse": true}, "axis": null}, "text": {"field": "v2010", "type": "quantitative", "format": ".1f"}}},
     {"data": {"name": "tab"}, "transform": [{"filter": "datum.kind === 'total'"}], "mark": {"type": "text", "align": "right", "fontSize": 6.1, "fontWeight": "bold", "color": "#000000"}, "encoding": {"x": {"datum": 260, "type": "quantitative", "scale": {"domain": [0, 275]}, "axis": null}, "y": {"field": "line", "type": "quantitative", "scale": {"domain": [0, 47.75], "reverse": true}, "axis": null}, "text": {"field": "chg", "type": "quantitative", "format": "+.1f"}}}
    ]
   }
  ]}
 ]}
]
}
